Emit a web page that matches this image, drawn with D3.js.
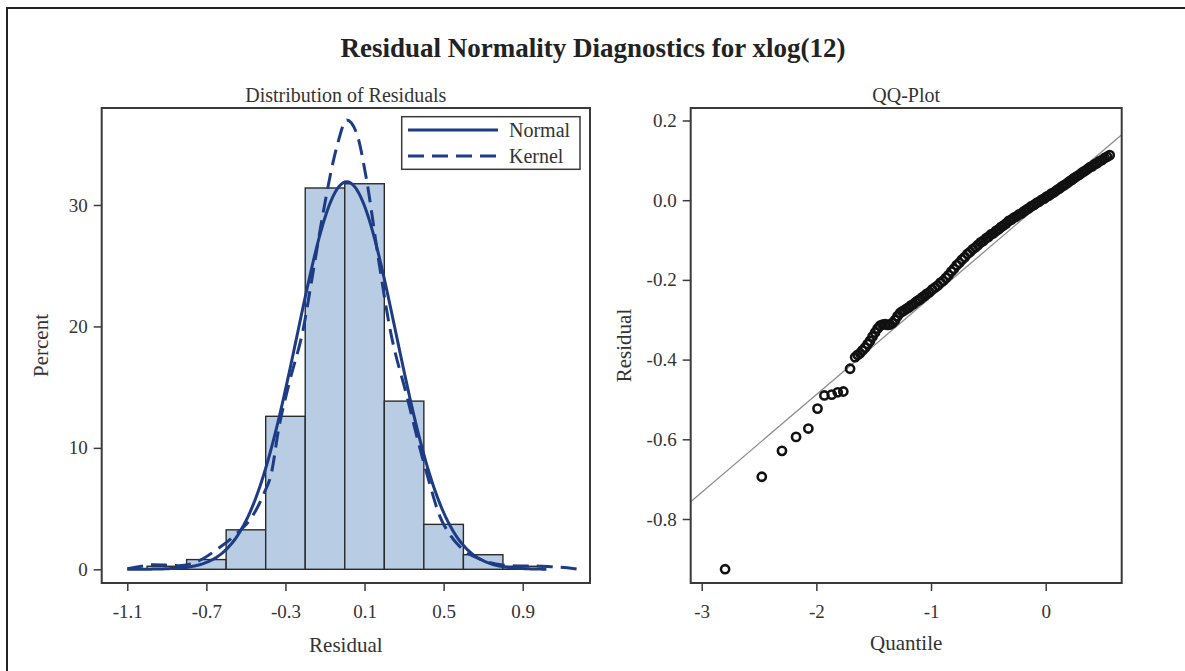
<!DOCTYPE html>
<html>
<head>
<meta charset="utf-8">
<script src="https://cdn.jsdelivr.net/npm/d3@7"></script>
<style>
  html, body { margin: 0; background: #fff; overflow: hidden; }
  svg { display: block; }
  text { font-family: "Liberation Serif", "Times New Roman", serif; fill: #333; }
</style>
</head>
<body>
<div id="chart"></div>
<script>
// histogram of residuals (percent per 0.2 wide bin)
let binStarts = [-1.0, -0.8, -0.6, -0.4, -0.2, 0.0, 0.2, 0.4, 0.6, 0.8];
let binPercents = [0.25, 0.8, 3.25, 12.6, 31.4, 31.75, 13.85, 3.7, 1.2, 0.25];
let binWidth = 0.2;

// fitted normal
let normalMean = 0.01, normalSd = 0.25;

// kernel density estimate [residual, percent]
let kernelPoints = [
  [-1.10, 0.05], [-1.03, 0.25], [-0.97, 0.38], [-0.91, 0.35], [-0.84, 0.3], [-0.78, 0.45],
  [-0.72, 0.85], [-0.65, 1.6], [-0.55, 2.9], [-0.47, 4.3], [-0.41, 6.2], [-0.37, 8.0],
  [-0.335, 11.5], [-0.28, 15.4], [-0.21, 19.8], [-0.16, 24.5], [-0.11, 29.3], [-0.04, 34.8],
  [0.01, 37.0], [0.06, 35.9], [0.11, 32.1], [0.17, 25.6], [0.23, 19.7], [0.315, 14.2],
  [0.37, 10.6], [0.42, 7.6], [0.48, 4.4], [0.53, 2.9], [0.58, 1.9], [0.69, 0.8],
  [0.80, 0.35], [0.90, 0.28], [0.97, 0.27], [1.05, 0.2], [1.125, 0.12], [1.175, 0.02]
];

let histTicks = [-1.1, -0.7, -0.3, 0.1, 0.5, 0.9];
let percentTicks = [0, 10, 20, 30];

// QQ plot points [normal quantile, residual]
let qqPoints = [
  [-2.796, -0.926], [-2.476, -0.694], [-2.300, -0.629], [-2.177, -0.594], [-2.070, -0.573],
  [-1.990, -0.523], [-1.930, -0.490], [-1.866, -0.488], [-1.814, -0.482], [-1.765, -0.480],
  [-1.706, -0.423], [-1.662, -0.394], [-1.640, -0.388],
  [-1.619, -0.384], [-1.598, -0.377], [-1.575, -0.370], [-1.553, -0.361], [-1.532, -0.353],
  [-1.510, -0.342], [-1.488, -0.332], [-1.466, -0.322], [-1.445, -0.315], [-1.423, -0.312],
  [-1.401, -0.311], [-1.380, -0.313], [-1.358, -0.312], [-1.336, -0.308], [-1.314, -0.301],
  [-1.292, -0.291], [-1.270, -0.283], [-1.250, -0.279], [-1.231, -0.276], [-1.212, -0.272],
  [-1.193, -0.269], [-1.174, -0.264], [-1.154, -0.261], [-1.135, -0.256], [-1.115, -0.252],
  [-1.096, -0.249], [-1.077, -0.244], [-1.057, -0.240], [-1.038, -0.235], [-1.014, -0.231],
  [-0.990, -0.224], [-0.965, -0.219], [-0.941, -0.214], [-0.917, -0.207], [-0.893, -0.202],
  [-0.870, -0.195], [-0.847, -0.188], [-0.823, -0.179], [-0.800, -0.172], [-0.776, -0.163],
  [-0.753, -0.157], [-0.730, -0.149], [-0.706, -0.143], [-0.683, -0.135], [-0.660, -0.130],
  [-0.636, -0.123], [-0.612, -0.118], [-0.590, -0.112], [-0.567, -0.106], [-0.545, -0.102],
  [-0.522, -0.096], [-0.500, -0.092], [-0.478, -0.086], [-0.455, -0.083], [-0.433, -0.077],
  [-0.410, -0.073], [-0.388, -0.067], [-0.366, -0.063], [-0.344, -0.058], [-0.322, -0.052],
  [-0.300, -0.049], [-0.278, -0.044], [-0.256, -0.041], [-0.234, -0.036], [-0.212, -0.033],
  [-0.190, -0.028], [-0.168, -0.024], [-0.146, -0.020], [-0.124, -0.015], [-0.102, -0.012],
  [-0.080, -0.007], [-0.058, -0.004], [-0.036, 0.001], [-0.014, 0.004], [0.008, 0.009],
  [0.030, 0.012], [0.052, 0.017], [0.074, 0.020], [0.096, 0.025], [0.118, 0.029],
  [0.140, 0.034], [0.162, 0.038], [0.184, 0.042], [0.206, 0.047], [0.228, 0.051],
  [0.250, 0.056], [0.272, 0.060], [0.294, 0.064], [0.316, 0.069], [0.338, 0.073],
  [0.360, 0.077], [0.382, 0.082], [0.404, 0.085], [0.426, 0.090], [0.448, 0.093],
  [0.470, 0.098], [0.492, 0.101], [0.514, 0.106], [0.536, 0.109], [0.558, 0.113]
];
let refIntercept = 0.002, refSlope = 0.245;

let quantileTicks = [-3, -2, -1, 0];
let residualTicks = [-0.8, -0.6, -0.4, -0.2, 0.0, 0.2];

let width = 1185, height = 671;
let curveColor = "#1d3c85";
let frameColor = "#3a3a3a";

// hyphen minus like the original output
let fmt1 = function(d) { return d3.format(".1f")(d).replace("\u2212", "-"); };
let fmt0 = function(d) { return d3.format("d")(d).replace("\u2212", "-"); };

let svg = d3.select("#chart").append("svg")
    .attr("width", width)
    .attr("height", height);

svg.append("rect").attr("width", width).attr("height", height).attr("fill", "#fff");
// outer frame: only left and top edges are inside the picture
svg.append("path")
    .attr("d", "M7," + height + "V8H" + width)
    .attr("fill", "none").attr("stroke", "#222").attr("stroke-width", 2);

svg.append("text")
    .attr("x", 593).attr("y", 57)
    .attr("text-anchor", "middle")
    .style("font-size", "27px").style("font-weight", "bold").style("fill", "#222")
    .text("Residual Normality Diagnostics for xlog(12)");

// ---------- left panel: histogram ----------
let left = {x0: 101.7, x1: 590, y0: 108, y1: 583};

let x = d3.scaleLinear().domain([-1.1, 0.9]).range([127.3, 522.7]);
let y = d3.scaleLinear().domain([0, 30]).range([569.3, 205]);

let hist = svg.append("g");

hist.selectAll(".bar")
    .data(binStarts)
    .enter().append("rect")
    .attr("class", "bar")
    .attr("x", function(d) { return x(d); })
    .attr("width", function(d) { return x(d + binWidth) - x(d); })
    .attr("y", function(d, i) { return y(binPercents[i]); })
    .attr("height", function(d, i) { return y(0) - y(binPercents[i]); })
    .attr("fill", "#b8cce4")
    .attr("stroke", "#2b2b2b")
    .attr("stroke-width", 1.4);

let normalX = d3.range(-1.1, 1.021, 0.01);
let normalLine = d3.line()
    .x(function(d) { return x(d); })
    .y(function(d) {
        let z = (d - normalMean) / normalSd;
        return y(binWidth * 100 * Math.exp(-0.5 * z * z) / (normalSd * Math.sqrt(2 * Math.PI)));
    });
hist.append("path")
    .datum(normalX)
    .attr("d", normalLine)
    .attr("fill", "none").attr("stroke", curveColor).attr("stroke-width", 3);

let kernelLine = d3.line()
    .x(function(d) { return x(d[0]); })
    .y(function(d) { return y(d[1]); })
    .curve(d3.curveMonotoneX);
hist.append("path")
    .datum(kernelPoints)
    .attr("d", kernelLine)
    .attr("fill", "none").attr("stroke", curveColor).attr("stroke-width", 3)
    .attr("stroke-dasharray", "16,8");

hist.append("rect")
    .attr("x", left.x0).attr("y", left.y0)
    .attr("width", left.x1 - left.x0).attr("height", left.y1 - left.y0)
    .attr("fill", "none").attr("stroke", frameColor).attr("stroke-width", 2);

let xAxisL = svg.append("g")
    .attr("transform", "translate(0," + left.y1 + ")")
    .call(d3.axisBottom(x).tickValues(histTicks).tickSize(8).tickPadding(14)
        .tickFormat(fmt1));
let yAxisL = svg.append("g")
    .attr("transform", "translate(" + left.x0 + ",0)")
    .call(d3.axisLeft(y).tickValues(percentTicks).tickSize(8).tickPadding(6));

// legend
let legend = svg.append("g");
legend.append("rect")
    .attr("x", 401.7).attr("y", 116.7).attr("width", 178.3).attr("height", 52.6)
    .attr("fill", "#fff").attr("stroke", frameColor).attr("stroke-width", 1.5);
[["Normal", null, 130], ["Kernel", "16,8", 156]].forEach(function(d) {
    legend.append("line")
        .attr("x1", 408).attr("x2", 498).attr("y1", d[2]).attr("y2", d[2])
        .attr("stroke", curveColor).attr("stroke-width", 3)
        .attr("stroke-dasharray", d[1]);
    legend.append("text")
        .attr("x", 509).attr("y", d[2] + 7)
        .style("font-size", "20px")
        .text(d[0]);
});

svg.append("text")
    .attr("x", (left.x0 + left.x1) / 2).attr("y", 102)
    .attr("text-anchor", "middle").style("font-size", "20px")
    .text("Distribution of Residuals");
svg.append("text")
    .attr("x", (left.x0 + left.x1) / 2).attr("y", 652)
    .attr("text-anchor", "middle").style("font-size", "21px")
    .text("Residual");
svg.append("text")
    .attr("transform", "translate(48," + (left.y0 + left.y1) / 2 + ") rotate(-90)")
    .attr("text-anchor", "middle").style("font-size", "21px")
    .text("Percent");

// ---------- right panel: QQ plot ----------
let right = {x0: 690.7, x1: 1121.7, y0: 108, y1: 583};

let xq = d3.scaleLinear().domain([-3, 0]).range([701.7, 1045.7]);
let yq = d3.scaleLinear().domain([-0.8, 0.2]).range([519, 120.5]);

let qq = svg.append("g");

let qLo = xq.invert(right.x0), qHi = xq.invert(right.x1);
qq.append("line")
    .attr("x1", xq(qLo)).attr("y1", yq(refIntercept + refSlope * qLo))
    .attr("x2", xq(qHi)).attr("y2", yq(refIntercept + refSlope * qHi))
    .attr("stroke", "#8c8c8c").attr("stroke-width", 1.3);

qq.selectAll(".pt")
    .data(qqPoints)
    .enter().append("circle")
    .attr("class", "pt")
    .attr("cx", function(d) { return xq(d[0]); })
    .attr("cy", function(d) { return yq(d[1]); })
    .attr("r", 4.1)
    .attr("fill", "none").attr("stroke", "#111").attr("stroke-width", 2.6);

qq.append("rect")
    .attr("x", right.x0).attr("y", right.y0)
    .attr("width", right.x1 - right.x0).attr("height", right.y1 - right.y0)
    .attr("fill", "none").attr("stroke", frameColor).attr("stroke-width", 2);

let xAxisR = svg.append("g")
    .attr("transform", "translate(0," + right.y1 + ")")
    .call(d3.axisBottom(xq).tickValues(quantileTicks).tickSize(8).tickPadding(14)
        .tickFormat(fmt0));
let yAxisR = svg.append("g")
    .attr("transform", "translate(" + right.x0 + ",0)")
    .call(d3.axisLeft(yq).tickValues(residualTicks).tickSize(8).tickPadding(6)
        .tickFormat(fmt1));

svg.append("text")
    .attr("x", (right.x0 + right.x1) / 2).attr("y", 102)
    .attr("text-anchor", "middle").style("font-size", "20px")
    .text("QQ-Plot");
svg.append("text")
    .attr("x", (right.x0 + right.x1) / 2).attr("y", 650)
    .attr("text-anchor", "middle").style("font-size", "21px")
    .text("Quantile");
svg.append("text")
    .attr("transform", "translate(631," + (right.y0 + right.y1) / 2 + ") rotate(-90)")
    .attr("text-anchor", "middle").style("font-size", "21px")
    .text("Residual");

// axis styling
[xAxisL, yAxisL, xAxisR, yAxisR].forEach(function(a) {
    a.select(".domain").remove();
    a.selectAll(".tick line").attr("stroke", frameColor).attr("stroke-width", 1.5);
    a.selectAll(".tick text")
        .style("font-family", '"Liberation Serif", "Times New Roman", serif')
        .style("font-size", "19px").attr("fill", "#333");
});
</script>
</body>
</html>
